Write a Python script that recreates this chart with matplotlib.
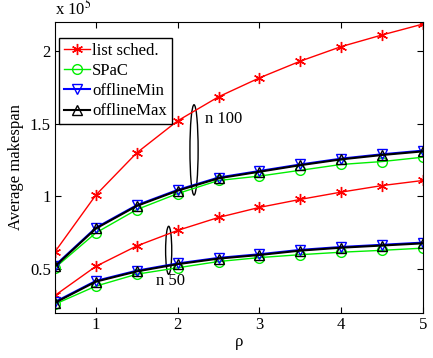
import matplotlib.pyplot as plt
from matplotlib.patches import Ellipse

plt.rcParams['font.family'] = ['Liberation Serif', 'DejaVu Serif']
plt.rcParams['mathtext.fontset'] = 'stix'

rho = [0.5, 1, 1.5, 2, 2.5, 3, 3.5, 4, 4.5, 5]

# n = 100 (units of 1e5)
list100 = [0.62, 1.01, 1.30, 1.52, 1.685, 1.815, 1.93, 2.03, 2.11, 2.185]
spac100 = [0.51, 0.75, 0.91, 1.02, 1.11, 1.14, 1.18, 1.22, 1.24, 1.27]
omin100 = [0.525, 0.785, 0.94, 1.045, 1.13, 1.175, 1.22, 1.26, 1.29, 1.315]
omax100 = [0.52, 0.78, 0.935, 1.04, 1.125, 1.17, 1.215, 1.255, 1.285, 1.31]

# n = 50
list50 = [0.32, 0.52, 0.66, 0.767, 0.856, 0.925, 0.98, 1.03, 1.075, 1.11]
spac50 = [0.26, 0.384, 0.466, 0.51, 0.553, 0.58, 0.60, 0.617, 0.63, 0.645]
omin50 = [0.275, 0.42, 0.49, 0.54, 0.578, 0.603, 0.633, 0.653, 0.668, 0.683]
omax50 = [0.27, 0.415, 0.485, 0.535, 0.573, 0.598, 0.628, 0.648, 0.663, 0.678]

fig = plt.figure(figsize=(4.33, 3.58), dpi=100)
ax = fig.add_axes([0.127, 0.126, 0.85, 0.813])

star = (6, 2, 0)
ax.plot(rho, list100, color='red', marker=star, ms=8, mew=1, lw=1, label='list sched.')
ax.plot(rho, spac100, color='#00ee00', marker='o', ms=7, mfc='none', lw=1, label='SPaC')
ax.plot(rho, omin100, color='blue', marker='v', ms=7, mfc='none', lw=1.5, label='offlineMin')
ax.plot(rho, omax100, color='black', marker='^', ms=7, mfc='none', lw=1.5, label='offlineMax')

ax.plot(rho, list50, color='red', marker=star, ms=8, mew=1, lw=1)
ax.plot(rho, spac50, color='#00ee00', marker='o', ms=7, mfc='none', lw=1)
ax.plot(rho, omin50, color='blue', marker='v', ms=7, mfc='none', lw=1.5)
ax.plot(rho, omax50, color='black', marker='^', ms=7, mfc='none', lw=1.5)

# group markers
ax.add_patch(Ellipse((2.2, 1.32), 0.1, 0.62, fill=False, color='black', lw=1))
ax.text(2.33, 1.53, 'n 100', fontsize=12, va='center')
ax.add_patch(Ellipse((1.89, 0.63), 0.075, 0.33, fill=False, color='black', lw=1))
ax.text(1.74, 0.42, 'n 50', fontsize=12, va='center')

ax.set_xlim(0.5, 5)
ax.set_ylim(0.2, 2.2)
ax.set_xticks([1, 2, 3, 4, 5])
ax.set_yticks([0.5, 1, 1.5, 2])
ax.set_yticklabels(['0.5', '1', '1.5', '2'])
ax.tick_params(direction='in', top=True, right=True, labelsize=12, length=4, pad=3)
ax.set_xlabel('ρ', fontsize=12, labelpad=1)
ax.set_ylabel('Average makespan', fontsize=12, labelpad=4)
ax.text(0.0, 1.01, 'x 10$^5$', transform=ax.transAxes, fontsize=12, va='bottom')

ax.legend(loc='upper left', bbox_to_anchor=(0.01, 0.945), borderaxespad=0,
          fancybox=False, edgecolor='black', framealpha=1, fontsize=12,
          handlelength=1.6, handletextpad=0.1, labelspacing=0.25, borderpad=0.3)

fig.savefig('out.png', dpi=100)
